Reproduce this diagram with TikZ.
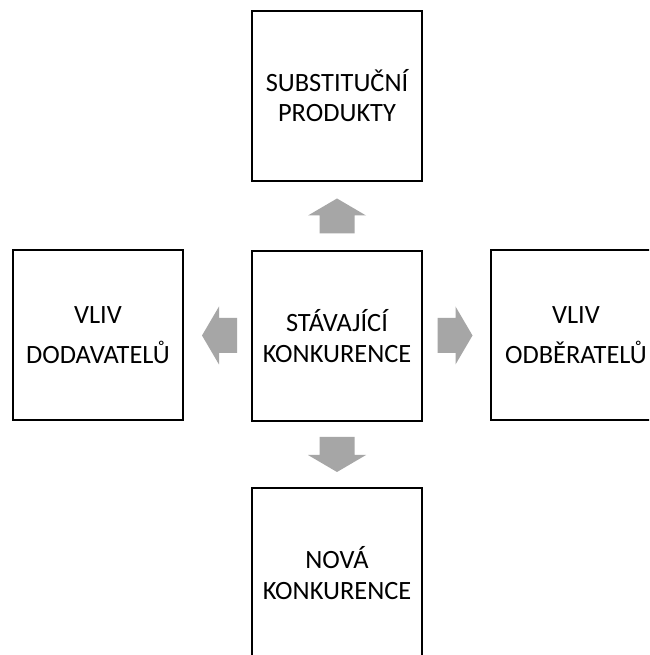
\documentclass[tikz,border=0pt]{standalone}
\usepackage{fontspec}
\setmainfont{Carlito}
\usetikzlibrary{calc}
\definecolor{arrowgray}{RGB}{166,166,166}
\tikzset{
  force/.style={draw=black, line width=2.2pt, minimum width=170pt, minimum height=170pt,
    inner sep=0pt, align=center, text=black},
  tightlines/.style={font=\fontsize{26.4}{30}\selectfont},
  midlines/.style={font=\fontsize{26.4}{31.5}\selectfont},
  widelines/.style={font=\fontsize{26.4}{40}\selectfont},
  blockarrow/.pic={
    \fill[arrowgray] (0,17.5) -- (29,0.5) -- (17.5,0.5) -- (17.5,-17.5)
      -- (-17.5,-17.5) -- (-17.5,0.5) -- (-29,0.5) -- cycle;
  }
}
\begin{document}
\begin{tikzpicture}[x=1pt,y=1pt]
  \useasboundingbox (0,0) rectangle (649,655);
  \clip (0,0) rectangle (649,655);
  \fill[white] (0,0) rectangle (649,655);

  % the five boxes
  \node[force, midlines]   (mid)    at (337,319) {STÁVAJÍCÍ\\KONKURENCE};
  \node[force, tightlines] (top)    at (337,559) {SUBSTITUČNÍ\\PRODUKTY};
  \node[force, widelines]  (left)   at (98,320)  {VLIV\\DODAVATELŮ};
  \node[force, widelines]  (right)  at (576,320) {VLIV\\ODBĚRATELŮ};
  \node[force, midlines]   (bottom) at (337,82)  {NOVÁ\\KONKURENCE};

  % block arrows pointing outwards from the centre box
  \pic at ($(mid.north)!0.5!(top.south)$) {blockarrow};
  \pic[rotate=180] at ($(mid.south)!0.5!(bottom.north)$) {blockarrow};
  \pic[rotate=90] at ($(mid.west)!0.5!(left.east)+(2,0)$) {blockarrow};
  \pic[rotate=-90] at ($(mid.east)!0.5!(right.west)+(-1.5,0)$) {blockarrow};
\end{tikzpicture}
\end{document}
